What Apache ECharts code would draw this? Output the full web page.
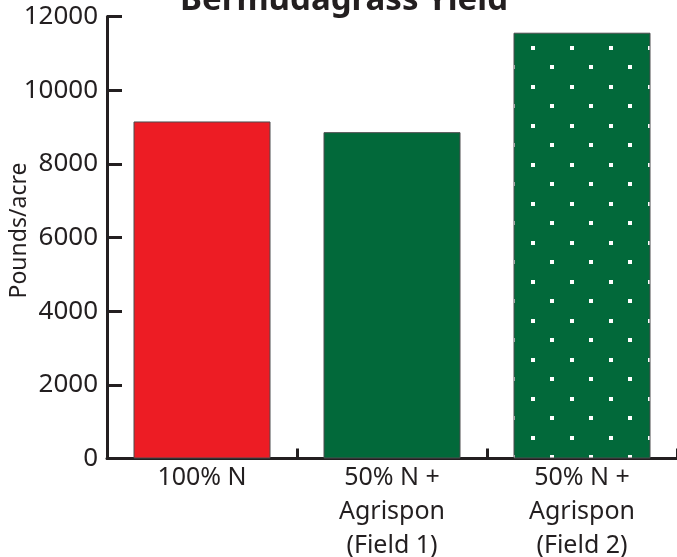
<!DOCTYPE html>
<html>
<head>
<meta charset="utf-8">
<script src="https://cdn.jsdelivr.net/npm/echarts@6/dist/echarts.min.js"></script>
<style>
html, body { margin: 0; padding: 0; background: #fff; }
#chart { width: 677px; height: 557px; }
</style>
</head>
<body>
<div id="chart"></div>
<script>
var categories = ['100% N', '50% N +\nAgrispon\n(Field 1)', '50% N +\nAgrispon\n(Field 2)'];
var yieldValues = [9150, 8860, 11560];
var yMin = 0;
var yMax = 12000;
var yStep = 2000;

var dark = '#231f20';
var font = 'Noto Sans';

// white dot pattern for the field 2 bar
function dotPattern() {
	var c = document.createElement('canvas');
	c.width = 39;
	c.height = 39;
	var ctx = c.getContext('2d');
	ctx.fillStyle = '#02693a';
	ctx.fillRect(0, 0, 39, 39);
	ctx.fillStyle = '#ffffff';
	ctx.fillRect(24, 7, 4, 4);
	ctx.fillRect(4, 26, 4, 4);
	return c;
}

var barColors = ['#ed1c24', '#02693a', { image: dotPattern(), repeat: 'repeat' }];

var seriesData = [];
for (var i = 0; i < yieldValues.length; i++) {
	seriesData.push({
		value : yieldValues[i],
		itemStyle : { color : barColors[i] }
	});
}

var myChart = echarts.init(document.getElementById('chart'));
var option = {
	animation : false,
	title : {
		text : 'Bermudagrass Yield',
		left : 180,
		top : -16,
		padding : 0,
		textStyle : {
			fontFamily : font,
			fontWeight : 'bold',
			fontSize : 33,
			color : dark
		}
	},
	grid : {
		left : 107,
		right : 0,
		top : 16.5,
		bottom : 98.5,
		containLabel : false,
		outerBoundsMode : 'none'
	},
	xAxis : {
		type : 'category',
		data : categories,
		axisLine : { lineStyle : { color : dark, width : 3 } },
		axisTick : {
			show : true,
			inside : true,
			length : 10,
			lineStyle : { color : dark, width : 3 }
		},
		axisLabel : {
			fontFamily : font,
			fontSize : 25,
			lineHeight : 34,
			color : dark,
			margin : 2
		}
	},
	yAxis : {
		type : 'value',
		min : yMin,
		max : yMax,
		interval : yStep,
		name : 'Pounds/acre',
		nameLocation : 'middle',
		nameGap : 76,
		nameMoveOverlap : false,
		nameTextStyle : {
			fontFamily : font,
			fontSize : 23,
			color : dark,
			padding : [0, 0, 0, 14]
		},
		splitLine : { show : false },
		axisLine : { show : true, lineStyle : { color : dark, width : 3 } },
		axisTick : {
			show : true,
			inside : true,
			length : 15,
			lineStyle : { color : dark, width : 3 }
		},
		axisLabel : {
			fontFamily : font,
			fontSize : 26,
			color : dark,
			margin : 9,
			formatter : function(v) {
				return String(v);
			}
		}
	},
	series : [ {
		type : 'bar',
		barWidth : 137,
		data : seriesData,
		itemStyle : {
			borderColor : '#4d4d4f',
			borderWidth : 1
		}
	} ]
};
myChart.setOption(option);
</script>
</body>
</html>
